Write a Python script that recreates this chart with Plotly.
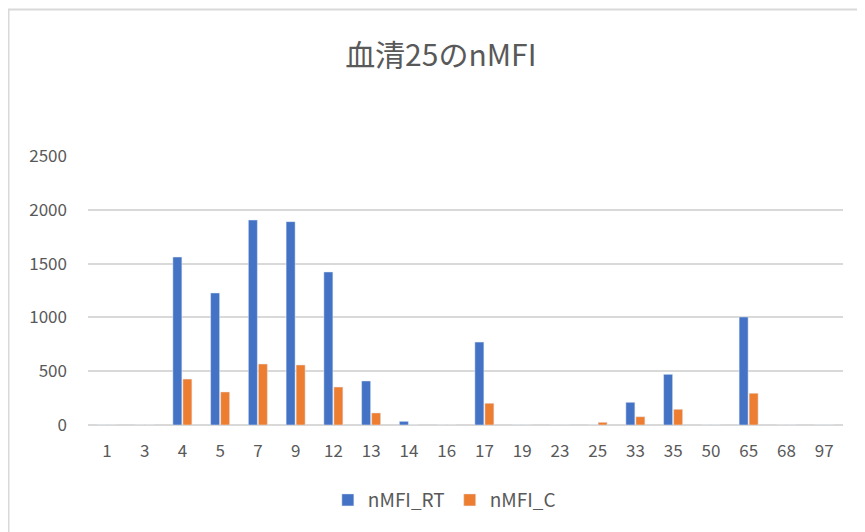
import plotly.graph_objects as go

categories = ["1", "3", "4", "5", "7", "9", "12", "13", "14", "16", "17", "19", "23", "25", "33", "35", "50", "65", "68", "97"]
nmfi_rt = [0, 0, 1561, 1227, 1905, 1890, 1422, 409, 34, 0, 771, 0, 0, 0, 211, 471, 0, 1004, 0, 0]
nmfi_c = [0, 0, 427, 307, 567, 558, 353, 112, 0, 0, 202, 0, 0, 25, 77, 146, 0, 295, 0, 0]
y_ticks = [0, 500, 1000, 1500, 2000, 2500]

font_family = "Noto Sans CJK JP, Noto Sans, sans-serif"
grey = "#595959"

fig = go.Figure()
fig.add_trace(go.Bar(x=categories, y=nmfi_rt, name="nMFI_RT", marker=dict(color="#4472C4")))
fig.add_trace(go.Bar(x=categories, y=nmfi_c, name="nMFI_C", marker=dict(color="#ED7D31")))

fig.update_layout(
    width=857, height=524,
    paper_bgcolor="white", plot_bgcolor="white",
    margin=dict(l=80, r=22, t=148, b=107),
    barmode="group", bargap=0.47, bargroupgap=0.1,
    title=dict(text="血清25のnMFI", x=0.505, xanchor="center", y=0.91, yanchor="middle",
               font=dict(family=font_family, size=30, color=grey)),
    font=dict(family=font_family, color=grey, size=17),
    legend=dict(orientation="h", x=0.472, xanchor="center", y=-0.279, yanchor="middle",
                font=dict(size=19, color=grey), itemwidth=30, traceorder="normal"),
    xaxis=dict(type="category", showgrid=False, showline=False, ticks="",
               ticklabelstandoff=14, tickfont=dict(size=17, color=grey)),
    yaxis=dict(range=[0, 2500], tickvals=y_ticks, showgrid=True, gridcolor="#D9D9D9", gridwidth=2,
               zeroline=True, zerolinecolor="#D9D9D9", zerolinewidth=2, showline=False, ticks="",
               ticklabelstandoff=20, tickfont=dict(size=17, color=grey)),
    shapes=[dict(type="rect", xref="paper", yref="paper",
                 x0=-79.5 / 755, x1=1.2, y0=-0.5, y1=1 + 146.5 / 269,
                 line=dict(color="#D9D9D9", width=2), layer="below")],
)

fig.write_html("out.html")
